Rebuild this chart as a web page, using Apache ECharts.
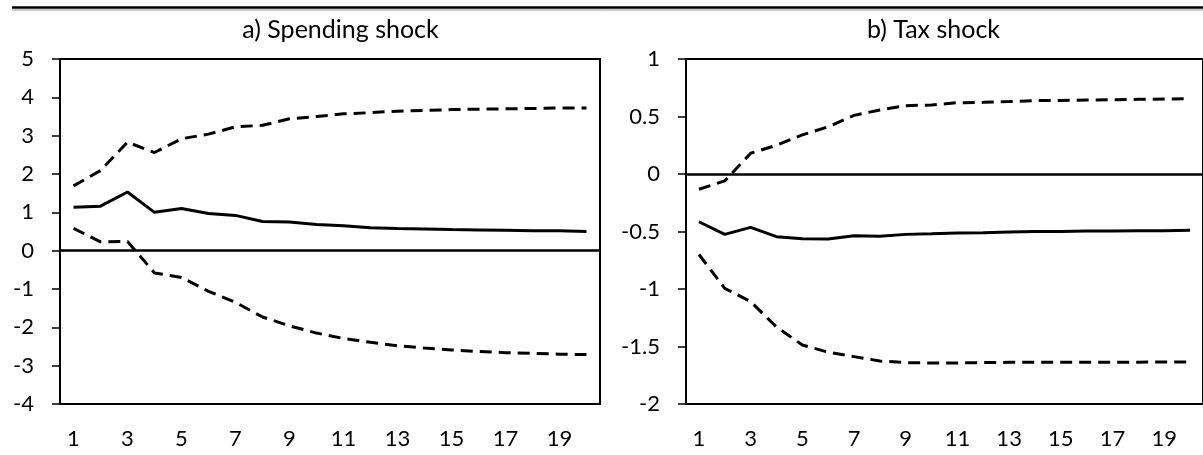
<!DOCTYPE html>
<html>
<head>
<meta charset="utf-8">
<script src="https://cdn.jsdelivr.net/npm/echarts@6/dist/echarts.min.js"></script>
<style>
html,body{margin:0;padding:0;background:#fff;}
#chart{width:1203px;height:455px;}
</style>
</head>
<body>
<div id="chart"></div>
<script>
var categories = ['1','2','3','4','5','6','7','8','9','10','11','12','13','14','15','16','17','18','19','20'];

var spendMid = [1.13,1.16,1.53,1.00,1.10,0.97,0.92,0.76,0.75,0.68,0.65,0.60,0.58,0.565,0.55,0.54,0.53,0.52,0.52,0.50];
var spendUp  = [1.69,2.09,2.83,2.56,2.92,3.04,3.23,3.27,3.44,3.50,3.57,3.60,3.64,3.66,3.68,3.69,3.70,3.71,3.72,3.72];
var spendLow = [0.58,0.23,0.24,-0.58,-0.70,-1.06,-1.35,-1.73,-1.96,-2.15,-2.29,-2.39,-2.48,-2.54,-2.59,-2.63,-2.66,-2.68,-2.70,-2.71];

var taxMid = [-0.415,-0.525,-0.464,-0.545,-0.562,-0.565,-0.536,-0.542,-0.525,-0.52,-0.513,-0.51,-0.504,-0.50,-0.50,-0.496,-0.495,-0.493,-0.493,-0.49];
var taxUp  = [-0.133,-0.06,0.18,0.25,0.34,0.41,0.51,0.556,0.594,0.60,0.62,0.623,0.63,0.638,0.64,0.643,0.646,0.649,0.652,0.655];
var taxLow = [-0.70,-0.994,-1.11,-1.33,-1.487,-1.55,-1.588,-1.626,-1.64,-1.643,-1.643,-1.64,-1.638,-1.638,-1.637,-1.637,-1.636,-1.636,-1.635,-1.635];

var panelTitles = ['a) Spending shock', 'b) Tax shock'];

var FONT = 'Lato, "Open Sans", sans-serif';
var chart = echarts.init(document.getElementById('chart'), null, {renderer: 'canvas'});

function xAxisFor(idx) {
  return {
    type: 'category', gridIndex: idx, data: categories, boundaryGap: true,
    position: 'bottom',
    axisLine: {show: true, onZero: false, lineStyle: {color: '#000', width: 2}},
    axisTick: {show: false},
    axisLabel: {interval: 1, color: '#000', fontFamily: FONT, fontSize: 22, margin: 24},
    splitLine: {show: false}
  };
}
function yAxisFor(idx, min, max, interval) {
  return {
    type: 'value', gridIndex: idx, min: min, max: max, interval: interval,
    axisLine: {show: true, lineStyle: {color: '#000', width: 2}},
    axisTick: {show: true, inside: false, length: 8, lineStyle: {color: '#000', width: 1.5}},
    axisLabel: {color: '#000', fontFamily: FONT, fontSize: 22, margin: 26},
    splitLine: {show: false}
  };
}
var solid = {color: '#000', width: 3, type: 'solid'};
var dashed = {color: '#000', width: 3, type: [12, 7]};
function line(idx, data, style, zero) {
  var s = {
    type: 'line', xAxisIndex: idx, yAxisIndex: idx, data: data,
    symbol: 'none', lineStyle: style, silent: true, z: 3
  };
  if (zero) {
    s.markLine = {
      silent: true, symbol: 'none', label: {show: false},
      lineStyle: {color: '#000', width: 2.5, type: 'solid'},
      data: [{yAxis: 0}], z: 2
    };
  }
  return s;
}

chart.setOption({
  animation: false,
  backgroundColor: '#fff',
  title: [
    {text: panelTitles[0], left: 335.5, top: 12, textAlign: 'center',
     textStyle: {fontFamily: FONT, fontSize: 25, fontWeight: 'normal', color: '#000'}},
    {text: panelTitles[1], left: 928.5, top: 12, textAlign: 'center',
     textStyle: {fontFamily: FONT, fontSize: 25, fontWeight: 'normal', color: '#000'}}
  ],
  graphic: [
    {type: 'line', shape: {x1: 12, y1: 7.5, x2: 1203, y2: 7.5}, style: {stroke: '#000', lineWidth: 2.5}, silent: true},
    {type: 'line', shape: {x1: 12, y1: 10, x2: 1203, y2: 10}, style: {stroke: '#999', lineWidth: 1}, silent: true}
  ],
  grid: [
    {left: 60, right: 603, top: 59, bottom: 51, show: true, borderColor: '#000', borderWidth: 2, backgroundColor: 'transparent'},
    {left: 686, right: -1, top: 59, bottom: 51, show: true, borderColor: '#000', borderWidth: 2, backgroundColor: 'transparent'}
  ],
  xAxis: [xAxisFor(0), xAxisFor(1)],
  yAxis: [yAxisFor(0, -4, 5, 1), yAxisFor(1, -2, 1, 0.5)],
  series: [
    line(0, spendMid, solid, true),
    line(0, spendUp, dashed),
    line(0, spendLow, dashed),
    line(1, taxMid, solid, true),
    line(1, taxUp, dashed),
    line(1, taxLow, dashed)
  ]
});
</script>
</body>
</html>
